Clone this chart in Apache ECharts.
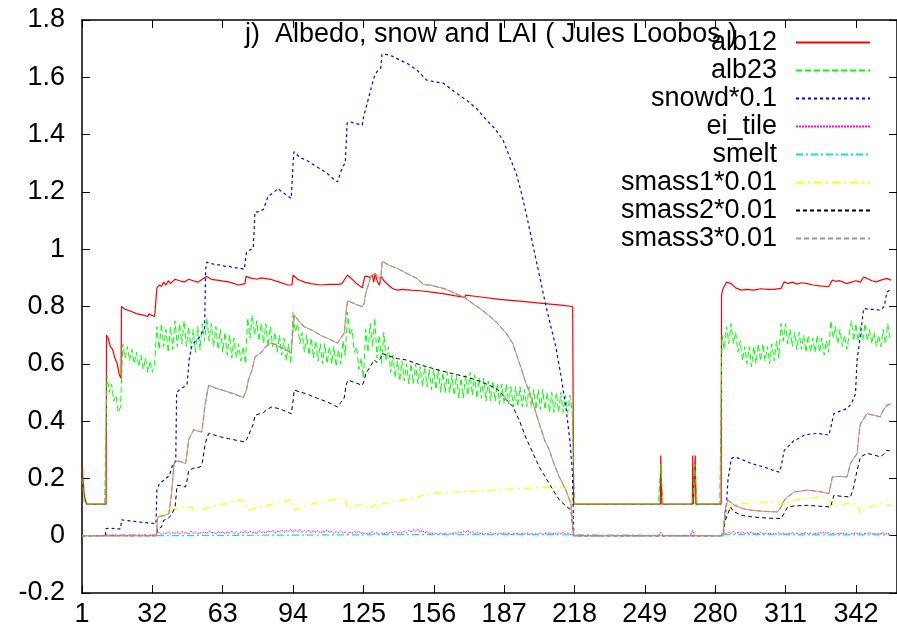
<!DOCTYPE html>
<html>
<head>
<meta charset="utf-8">
<script src="https://cdn.jsdelivr.net/npm/echarts@6/dist/echarts.min.js"></script>
<style>
html,body{margin:0;padding:0;background:#fff;}
#chart{width:897px;height:634px;}
</style>
</head>
<body>
<div id="chart"></div>
<script>
// ---------------- data (day of year, value) ----------------
const titleText = 'j)  Albedo, snow and LAI ( Jules Loobos )';
const seriesNames = ['alb12','alb23','snowd*0.1','ei_tile','smelt','smass1*0.01','smass2*0.01','smass3*0.01'];
const xTickStart = 1, xTickStep = 31;      // tick labels 1, 32, 63, ... 342
const yTicks = [-0.2, 1.8, 0.2];           // min, max, step

// alb12: breakpoints [day, value]
const alb12 = [[1,0.24],[2,0.14],[3,0.11],[11.6,0.11],[11.8,0.70],[12.5,0.69],[13.5,0.66],[14.5,0.65],[15.5,0.62],[16.5,0.60],[17,0.58],[17.5,0.56],[18.2,0.55],[18.4,0.80],[20,0.79],[22,0.785],[25,0.775],[28,0.77],[30,0.765],[30.5,0.775],[31.5,0.77],[33,0.765],[33.8,0.765],[34,0.865],[35,0.875],[36,0.87],[37,0.885],[38,0.875],[39,0.89],[40,0.88],[42,0.895],[44,0.89],[46,0.885],[48,0.895],[50,0.89],[52,0.885],[54,0.895],[55.9,0.905],[58,0.895],[62,0.89],[66,0.885],[70,0.875],[72.8,0.88],[73.3,0.905],[75,0.90],[78,0.895],[80,0.90],[84,0.895],[88,0.885],[91.7,0.875],[93.5,0.875],[94,0.91],[96,0.895],[99,0.885],[102,0.88],[106,0.875],[110,0.877],[114,0.877],[115.5,0.88],[118,0.91],[120,0.895],[122,0.88],[124.5,0.865],[125.3,0.865],[125.6,0.905],[127,0.905],[128,0.90],[129,0.91],[129.5,0.885],[130.2,0.915],[131,0.89],[132,0.875],[132.8,0.905],[134,0.89],[136,0.875],[138,0.862],[140,0.857],[142,0.86],[146,0.857],[150,0.855],[155,0.85],[160,0.845],[165,0.838],[169.8,0.832],[170,0.84],[175,0.835],[185,0.825],[195,0.818],[205,0.81],[212,0.805],[217.2,0.80],[217.6,0.11],[255.8,0.11],[256,0.28],[256.3,0.28],[256.5,0.11],[269.9,0.11],[270.1,0.28],[270.4,0.11],[271.2,0.28],[271.5,0.11],[282.6,0.11],[282.8,0.84],[283.3,0.86],[284,0.855],[285,0.885],[287,0.88],[289,0.865],[291.5,0.857],[294,0.86],[297,0.857],[300,0.862],[303,0.86],[306,0.86],[309,0.863],[310.4,0.886],[312,0.88],[314,0.885],[316,0.878],[318,0.883],[320.6,0.88],[323,0.875],[326,0.872],[330,0.869],[331.6,0.892],[333,0.888],[335,0.89],[338,0.88],[340,0.885],[342,0.89],[344,0.885],[345.4,0.903],[347,0.898],[349,0.89],[351,0.886],[353,0.892],[355.6,0.898],[357.5,0.892]];

// alb23: one value per day
const alb23Start1 = 1;   // days 1-217
const alb23Part1 = [.20,.12,.11,.11,.11,.11,.11,.11,.11,.11,.11,
 .56,.50,.53,.47,.49,.43,.45,
 .67,.62,.66,.61,.65,.60,.64,.59,.63,.58,.62,.57,.61,.57,.60,
 .73,.65,.74,.66,.72,.64,.73,.65,.75,.66,.74,.67,.75,.66,.73,.65,.72,.64,.73,.65,.74,.68,.76,.68,.74,.66,.73,.65,.72,.64,.71,.63,.70,.62,.69,.62,.67,.61,.66,.60,
 .76,.69,.77,.70,.75,.68,.74,.67,.74,.66,.73,.66,.71,.64,.70,.63,.69,.61,.67,.60,
 .78,.71,.74,.67,.71,.64,.70,.63,.69,.62,.68,.61,.67,.60,.67,.60,.66,.60,.66,.59,.65,.60,.68,.63,
 .78,.70,.72,.64,.66,.58,.62,.55,
 .72,.64,.74,.66,.76,.62,.70,.60,.71,.61,.66,.57,.63,.55,
 .61,.54,.61,.54,.60,.53,.60,.53,.60,.53,.59,.52,.59,.52,.58,.51,.58,.51,.58,.50,.57,.50,.57,.50,.56,.49,.56,.48,.55,.48,.56,.49,.57,.49,.56,.48,.55,.48,.55,.47,.54,.47,.54,.47,.53,.46,.53,.46,.53,.46,.52,.45,.52,.45,.52,.45,.51,.45,.52,.45,.51,.44,.51,.44,.51,.44,.50,.43,.50,.43,.50,.43,.50,.43,.49,.43,.49,.43];
const alb23Start2 = 218; // days 218-282
const alb23Part2 = [.11,.11,.11,.11,.11,.11,.11,.11,.11,.11,.11,.11,.11,.11,.11,.11,.11,.11,.11,.11,.11,.11,.11,.11,.11,.11,.11,.11,.11,.11,.11,.11,.11,.11,.11,.11,.11,.11,
 .25,
 .11,.11,.11,.11,.11,.11,.11,.11,.11,.11,.11,.11,.11,.11,
 .25,
 .11,.11,.11,.11,.11,.11,.11,.11,.11,.11,.11];
const alb23Start3 = 283; // days 283-357
const alb23Part3 = [.70,.65,.73,.67,.74,.67,.71,.64,.68,.61,.66,.60,.66,.59,.66,.60,.67,.61,.67,.61,.66,.60,.67,.61,.68,.62,.74,.68,.74,.67,.72,.66,.71,.65,.71,.65,.70,.64,.70,.64,.69,.64,.70,.64,.69,.63,.68,.64,.75,.69,.73,.67,.72,.66,.70,.65,.70,.75,.68,.74,.68,.73,.68,.74,.68,.72,.67,.71,.66,.70,.66,.72,.67,.74,.69];

// snowd*0.1: breakpoints
const snowd = [[1,0],[11.3,0],[11.6,0.025],[14,0.026],[16,0.024],[18,0.024],[18.4,0.055],[22,0.052],[26,0.048],[30,0.045],[33.6,0.042],[34,0.16],[35,0.18],[36.5,0.19],[38,0.20],[39.5,0.21],[41,0.25],[42.3,0.26],[42.7,0.50],[44,0.51],[46,0.52],[47.3,0.53],[48.3,0.62],[49.5,0.665],[51,0.68],[52.5,0.69],[54,0.71],[55,0.72],[55.5,0.93],[56,0.955],[58,0.95],[60,0.945],[62,0.945],[64,0.94],[66,0.94],[68,0.935],[70,0.935],[72.5,0.93],[73.5,0.99],[76.5,1.005],[77.2,1.13],[79,1.13],[81,1.14],[83,1.185],[85,1.195],[87.4,1.212],[89,1.20],[91,1.19],[93.2,1.177],[94,1.30],[94.4,1.34],[97,1.32],[100,1.31],[103,1.295],[106,1.28],[109,1.265],[111,1.25],[113.6,1.235],[115,1.27],[116,1.29],[117,1.30],[117.8,1.44],[119,1.445],[121,1.44],[124.5,1.433],[125,1.46],[126,1.49],[128,1.55],[129.7,1.60],[131,1.62],[132.6,1.631],[133.2,1.681],[135,1.68],[138.4,1.672],[141,1.66],[144.2,1.649],[148.6,1.625],[152.9,1.59],[156,1.585],[160.3,1.579],[165,1.55],[170.5,1.52],[175,1.49],[179.2,1.451],[183,1.42],[186.5,1.381],[189,1.33],[192.3,1.265],[194.5,1.20],[196.7,1.125],[199,1.04],[201.1,0.962],[203.3,0.88],[205.5,0.799],[207.6,0.73],[209.8,0.659],[212,0.56],[214.2,0.449],[216,0.33],[217.1,0.217],[217.7,0],[283.2,0],[283.4,0.007],[284.9,0.10],[285.6,0.193],[287.1,0.269],[288.6,0.275],[291,0.268],[293.5,0.26],[295.9,0.252],[299,0.245],[302,0.238],[305,0.23],[308.2,0.222],[309,0.24],[310.4,0.298],[312,0.31],[314.8,0.333],[317,0.34],[319.2,0.351],[322,0.355],[325,0.357],[328,0.354],[330.1,0.351],[331,0.38],[332.3,0.426],[335,0.435],[338.1,0.444],[340,0.46],[341.8,0.496],[342.5,0.613],[344,0.70],[345.4,0.793],[348,0.79],[350,0.79],[352.7,0.787],[354.5,0.80],[355.6,0.85],[357.5,0.86]];

// ei_tile: one value per day
const eiStart1 = 1;   // days 1-217
const eiPart1 = [0,0,0,0,0,0,0,0,0,0,0,
 .003,.001,.004,.002,.003,.001,.002,.004,.002,.001,.003,.002,.004,.001,.003,.002,.002,.004,.001,.003,.002,.004,
 .006,.012,.004,.010,.007,.014,.005,.011,.008,.013,
 .006,.015,.009,.012,.005,.016,.008,.013,.006,.011,
 .009,.014,.007,.017,.010,.012,.006,.015,.009,.013,
 .007,.012,.010,.016,.008,.014,.006,.013,.011,.015,
 .008,.016,.010,.013,.007,.018,.011,.014,.009,.017,
 .012,.020,.010,.016,.013,.021,.011,.018,.014,.022,
 .012,.019,.015,.022,.011,.018,.013,.020,.010,.017,
 .012,.019,.009,.016,.013,.020,.011,.015,.008,.014,
 .010,.017,.009,.013,.006,.012,.008,.014,.010,.016,
 .007,.012,.005,.010,.008,.013,.006,.011,.004,.009,
 .006,.012,.008,.014,.010,.015,.007,.013,.009,.016,
 .011,.018,.013,.022,.016,.024,.012,.019,.010,.015,
 .006,.011,.004,.009,.003,.008,.005,.010,.004,.007,
 .006,.011,.008,.013,.010,.016,.012,.018,.009,.014,
 .007,.012,.005,.010,.004,.008,.006,.011,.005,.009,
 .004,.008,.006,.010,.005,.009,.003,.007,.005,.008,
 .004,.009,.006,.011,.004,.008,.003,.007,.005,.009,
 .004,.008,.006,.012,.005,.009,.004,.010,.006,.013,
 .005,.009,.004,.003];
const eiStart2 = 218; // days 218-282
const eiPart2 = [0,0,0,0,0,0,0,0,0,0,0,0,0,0,0,0,0,0,0,0,0,0,0,0,0,0,0,0,0,0,0,0,0,0,0,0,0,0,
 .013,
 0,0,0,0,0,0,0,0,0,0,0,0,0,
 .018,
 0,0,0,0,0,0,0,0,0,0,0,0];
const eiStart3 = 283; // days 283-357
const eiPart3 = [.004,.010,.006,.013,.008,.015,.007,.012,.009,.014,
 .006,.011,.008,.013,.005,.010,.007,.012,.006,.009,
 .005,.010,.004,.008,.006,.011,.005,.009,.004,.008,
 .006,.010,.005,.009,.004,.008,.006,.011,.005,.009,
 .004,.008,.006,.012,.008,.014,.007,.011,.005,.009,
 .004,.008,.006,.010,.005,.009,.004,.008,.006,.010,
 .005,.009,.004,.008,.006,.011,.005,.009,.004,.008,
 .006,.010,.005,.009,.004];

// smelt: breakpoints
const smelt = [[1,0],[33.8,0],[34,0.003],[120,0.003],[150,0.004],[200,0.004],[217.5,0.003],[217.7,0],[283,0],[283.5,0.012],[284,0.004],[320,0.003],[357.5,0.003]];

// smass1*0.01: breakpoints
const smass1 = [[1,0],[33.8,0],[34.2,0.065],[35,0.071],[37,0.08],[39.3,0.089],[41,0.09],[43.6,0.095],[46,0.098],[49.5,0.10],[50.2,0.083],[52,0.088],[54.7,0.092],[56.8,0.10],[59,0.103],[61.1,0.106],[64,0.112],[66,0.117],[68.4,0.124],[71.3,0.125],[72.5,0.12],[74.3,0.088],[76,0.092],[78.6,0.10],[82,0.105],[86,0.112],[90,0.12],[93.2,0.126],[94.7,0.089],[97,0.098],[100,0.105],[102,0.11],[104.9,0.118],[108,0.122],[112,0.126],[116.7,0.13],[117.5,0.11],[118.1,0.092],[120,0.10],[122,0.105],[124.5,0.11],[126,0.098],[127.6,0.092],[129,0.105],[130.5,0.11],[131.2,0.095],[132,0.108],[135,0.115],[140,0.122],[146.6,0.13],[150,0.138],[153.9,0.145],[160,0.15],[167,0.153],[175.7,0.156],[185,0.161],[195,0.165],[205,0.168],[212.2,0.17],[216.5,0.17],[217.6,0],[283.5,0],[284.5,0.06],[285.6,0.077],[286.8,0.106],[291.5,0.112],[297,0.116],[303.1,0.118],[307,0.12],[309.5,0.112],[310.4,0.106],[312,0.115],[314.8,0.124],[320,0.13],[325,0.134],[327.9,0.135],[330.8,0.12],[332.3,0.10],[334,0.106],[338.1,0.112],[342.5,0.112],[344,0.077],[345.5,0.09],[348,0.10],[352.7,0.112],[355,0.108],[357.5,0.104]];

// smass2*0.01: breakpoints
const smass2 = [[1,0],[33.8,0],[34.3,0.025],[36,0.03],[37,0.054],[39,0.06],[40.7,0.077],[42,0.10],[42.9,0.176],[44.5,0.175],[46.6,0.17],[47.5,0.20],[48,0.228],[50,0.235],[53.1,0.24],[54,0.255],[55.3,0.322],[56.8,0.357],[59,0.352],[62,0.345],[65.5,0.339],[69,0.333],[72.8,0.327],[73.8,0.34],[75,0.362],[76.5,0.39],[77.2,0.42],[79,0.425],[81,0.43],[82.5,0.44],[84.4,0.449],[87,0.445],[89,0.44],[91,0.433],[93.2,0.426],[94,0.47],[94.5,0.508],[97,0.502],[100,0.495],[104.9,0.479],[108,0.47],[111,0.46],[113.6,0.449],[115,0.465],[116.5,0.48],[117.5,0.53],[118.3,0.543],[121,0.535],[124.5,0.525],[125.5,0.545],[126,0.566],[128,0.59],[129.7,0.613],[131,0.605],[132.6,0.62],[133.3,0.636],[136,0.628],[140,0.618],[144.2,0.613],[148.6,0.60],[155,0.585],[162,0.57],[170.5,0.554],[176,0.54],[182.1,0.519],[185,0.505],[187.9,0.475],[190.9,0.45],[193.8,0.40],[196.7,0.34],[199.6,0.29],[202.5,0.24],[205.5,0.20],[208.5,0.16],[211.3,0.125],[214,0.105],[216.4,0.09],[217.6,0],[283.5,0],[284.3,0.05],[285.6,0.077],[286.8,0.10],[288,0.085],[291.5,0.071],[296,0.066],[300,0.063],[304,0.061],[309,0.06],[310.5,0.08],[311.9,0.10],[315,0.104],[320.6,0.106],[324,0.104],[328,0.102],[330.8,0.10],[332.3,0.141],[335,0.138],[339.6,0.135],[341,0.17],[342.5,0.228],[344,0.275],[346.9,0.287],[350,0.282],[352.7,0.275],[354.6,0.287],[355.6,0.298],[357.5,0.295]];

// smass3*0.01: breakpoints
const smass3 = [[1,0],[33.8,0],[34.3,0.065],[37,0.07],[39.3,0.077],[40.5,0.15],[41.5,0.25],[42.5,0.26],[44,0.26],[46.6,0.252],[47.5,0.30],[48,0.335],[50.2,0.37],[52,0.365],[53.8,0.362],[55.3,0.461],[56.8,0.525],[60,0.515],[64,0.505],[68,0.495],[72.1,0.482],[73.5,0.51],[74.3,0.543],[76,0.58],[77.2,0.624],[80,0.64],[82,0.66],[84.4,0.673],[88,0.66],[91,0.648],[93.2,0.638],[94,0.72],[94.5,0.77],[97,0.745],[99,0.729],[103,0.715],[106,0.70],[110,0.686],[113.6,0.672],[115,0.69],[116.5,0.706],[117.5,0.79],[118,0.82],[121,0.81],[124.5,0.799],[125.3,0.81],[126,0.845],[128.2,0.903],[129.7,0.915],[131.1,0.909],[132.6,0.892],[133.3,0.958],[136,0.945],[139.9,0.933],[144.2,0.915],[148.6,0.898],[151.5,0.876],[154.4,0.875],[160.3,0.863],[165,0.848],[169.5,0.831],[175,0.80],[179.2,0.776],[183.6,0.745],[188,0.706],[190.9,0.67],[192.3,0.635],[194.5,0.585],[196.7,0.53],[198.2,0.50],[200,0.455],[202.5,0.391],[205,0.33],[206.9,0.30],[208.4,0.263],[211,0.21],[214.2,0.159],[216.4,0.112],[217.6,0],[283.5,0],[284.3,0.09],[285.6,0.124],[288.6,0.106],[292,0.095],[295.9,0.089],[300,0.086],[304,0.084],[307.5,0.083],[309,0.10],[310.5,0.125],[311.9,0.135],[314.8,0.153],[317,0.155],[320.6,0.159],[325,0.155],[330.1,0.147],[331.6,0.205],[335,0.207],[338.1,0.205],[339.6,0.252],[342.5,0.287],[343.3,0.35],[344,0.391],[346.9,0.426],[350,0.42],[352.7,0.415],[354.1,0.438],[355.6,0.455],[357.5,0.46]];

// ---------------- build ----------------
// x axis works in (day - first tick day) so ticks land on 1, 32, 63 ...
const toX = d => d - xTickStart;
const pairs = arr => arr.map(p => [toX(p[0]), p[1]]);
const daily = (start, arr) => arr.map((v, i) => [toX(start + i), v]);

const alb23 = daily(alb23Start1, alb23Part1).concat(daily(alb23Start2, alb23Part2), daily(alb23Start3, alb23Part3));
const eiTile = daily(eiStart1, eiPart1).concat(daily(eiStart2, eiPart2), daily(eiStart3, eiPart3));

const FONT = '"Liberation Sans", Arial, Helvetica, sans-serif';
const FS = 27;

function line(name, data, color, type, width) {
  return {
    name: name, type: 'line', data: data, showSymbol: false, symbol: 'none',
    animation: false, silent: true,
    lineStyle: { color: color, width: width || 1, type: type },
    itemStyle: { color: color },
    emphasis: { disabled: true }
  };
}

const chart = echarts.init(document.getElementById('chart'), null, { renderer: 'canvas' });

const xCommon = {
  type: 'value', min: 0, max: 359.1, interval: xTickStep,
  axisLine: { show: true, onZero: false, lineStyle: { color: '#000', width: 1.5 } },
  axisTick: { show: true, inside: true, length: 8, lineStyle: { color: '#000', width: 1 } },
  splitLine: { show: false }
};
const yCommon = {
  type: 'value', min: yTicks[0], max: yTicks[1], interval: yTicks[2],
  axisLine: { show: true, onZero: false, lineStyle: { color: '#000', width: 1.5 } },
  axisTick: { show: true, inside: true, length: 8, lineStyle: { color: '#000', width: 1 } },
  splitLine: { show: false }
};

chart.setOption({
  animation: false,
  backgroundColor: '#ffffff',
  title: {
    text: titleText, left: 245, top: 21, padding: 0,
    textStyle: { fontFamily: FONT, fontSize: FS, fontWeight: 'normal', color: '#000' }
  },
  legend: {
    data: seriesNames, orient: 'vertical', right: 26, top: 29, padding: 0,
    align: 'right', itemWidth: 74, itemHeight: 14, itemGap: 1,
    selectedMode: false,
    itemStyle: { opacity: 0 },
    textStyle: { fontFamily: FONT, fontSize: FS, color: '#000', lineHeight: 26, padding: [0, 14, 0, 0] }
  },
  grid: { left: 82, right: -7, top: 20, bottom: 41 },
  xAxis: [
    Object.assign({}, xCommon, {
      position: 'bottom',
      axisLabel: { show: true, showMaxLabel: false, margin: 8, color: '#000', fontFamily: FONT, fontSize: FS,
        formatter: v => String(Math.round(v) + xTickStart) }
    }),
    Object.assign({}, xCommon, { position: 'top', axisLabel: { show: false } })
  ],
  yAxis: [
    Object.assign({}, yCommon, {
      position: 'left',
      axisLabel: { show: true, margin: 17, color: '#000', fontFamily: FONT, fontSize: FS,
        formatter: v => String(Math.round(v * 10) / 10) }
    }),
    Object.assign({}, yCommon, { position: 'right', axisLabel: { show: false } })
  ],
  series: [
    line(seriesNames[0], pairs(alb12), '#ff0000', 'solid', 1.2),
    line(seriesNames[1], alb23, '#00ff00', [6, 3], 1),
    line(seriesNames[2], pairs(snowd), '#0000ff', [3, 3], 1.2),
    line(seriesNames[3], eiTile, '#ff00ff', [2, 1], 1),
    line(seriesNames[4], pairs(smelt), '#00e5ee', [7, 3, 2, 3], 1.2),
    line(seriesNames[5], pairs(smass1), '#ffff00', [8, 4, 2, 4], 1.2),
    line(seriesNames[6], pairs(smass2), '#000000', [4, 3], 1),
    line('smass3 underlay', pairs(smass3), '#ff7f50', 'solid', 1),
    line(seriesNames[7], pairs(smass3), '#999999', [5, 3], 1.2)
  ]
});
</script>
</body>
</html>
